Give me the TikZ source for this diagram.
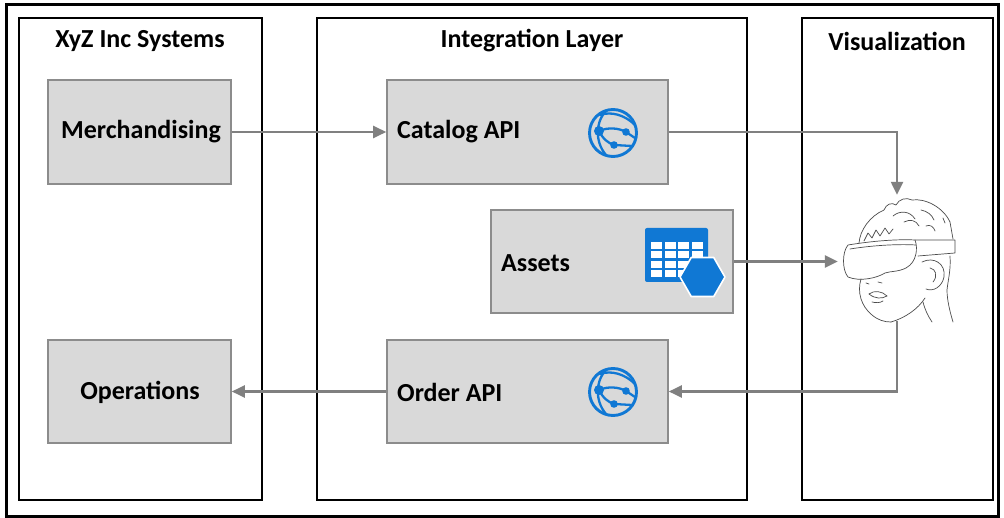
\documentclass[tikz,border=0pt]{standalone}
\usepackage{fontspec}
\setmainfont{Carlito}
\usetikzlibrary{arrows.meta}

\definecolor{boxfill}{RGB}{217,217,217}
\definecolor{boxline}{RGB}{140,140,140}
\definecolor{flow}{RGB}{128,128,128}
\definecolor{azure}{RGB}{16,120,212}

\begin{document}
\begin{tikzpicture}[x=1pt,y=-1pt,
  frame/.style={draw=black,line width=1.6pt,rectangle,inner sep=0pt},
  comp/.style={draw=boxline,fill=boxfill,line width=1.6pt,rectangle,inner sep=0pt},
  heading/.style={font=\fontsize{26}{30}\selectfont\bfseries},
  compname/.style={font=\fontsize{26}{30}\selectfont\bfseries,inner sep=0pt},
  flowline/.style={draw=flow,line width=2.4pt,-{Triangle[length=13pt,width=12pt]}},
  sketch/.style={draw=black!70,line width=0.7pt,line cap=round,line join=round},
  webapp/.pic={
    \draw[azure,line width=2.9pt] (0,0) circle (23.5);
    \begin{scope}[azure,line width=2.3pt,line cap=round]
      % meridian through the main node
      \draw (-6,-23) .. controls (-17,-13) and (-19,8) .. (-7,22);
      % upper latitude
      \draw (-13,-18) .. controls (-2,-22) and (12,-18) .. (22,-8);
      % links between nodes and out to the rim
      \draw (-14,-2) .. controls (-5,-6) and (6,-5) .. (13,-1);
      \draw (13,-1) -- (22,5);
      \draw (-14,-2) .. controls (-10,6) and (-5,10) .. (1,12);
      \draw (1,12) -- (19,13);
    \end{scope}
    \fill[azure] (-14,-2) circle (5) (13,-1) circle (3.8) (1,12) circle (3.8);
  }]

\useasboundingbox (0,0) rectangle (1004,518);
\fill[white] (0,0) rectangle (1004,518);
\draw[line width=3pt] (6,5) rectangle (998,516);

% swim lanes
\node[frame,minimum width=243,minimum height=482] (lane1) at (140.5,259) {};
\node[frame,minimum width=430,minimum height=482] (lane2) at (532,259) {};
\node[frame,minimum width=191,minimum height=482] (lane3) at (897.5,259) {};
\node[heading] (t1) at (140,41) {XyZ Inc Systems};
\node[heading] (t2) at (532,41) {Integration Layer};
\node[heading] (t3) at (897,41) {Visualization};

% components
\node[comp,minimum width=183,minimum height=104] (merch) at (139.5,132) {};
\node[compname] (merchlbl) at (141,132) {Merchandising};
\node[comp,minimum width=183,minimum height=103] (ops) at (139.5,391.5) {};
\node[compname] (opslbl) at (140,392) {Operations};
\node[comp,minimum width=281,minimum height=104] (catalog) at (527.5,132) {};
\node[compname,anchor=west] (cataloglbl) at (397,132) {Catalog API};
\node[comp,minimum width=242,minimum height=103] (assets) at (612,261.5) {};
\node[compname,anchor=west] (assetslbl) at (501,263) {Assets};
\node[comp,minimum width=281,minimum height=103] (order) at (527.5,391.5) {};
\node[compname,anchor=west] (orderlbl) at (397,392) {Order API};

% icons
\pic at (613,133) {webapp};
\pic at (613,392) {webapp};
\begin{scope}
  \fill[azure,rounded corners=2pt] (645,228) rectangle (708,282);
  \foreach \c in {0,1,2,3}{
    \foreach \r in {0,1,2,3}{
      \fill[white] ({651+\c*13.7},{242+\r*9.4}) rectangle ++(11,7);
    }
  }
  \filldraw[azure,draw=white,line width=1.6pt,line join=round]
    (725,277) -- (713.75,257.5) -- (691.25,257.5) -- (680,277)
    -- (691.25,296.5) -- (713.75,296.5) -- cycle;
\end{scope}

% viewer wearing a headset
\node[inner sep=0pt,minimum width=118,minimum height=126] (head) at (897,258) {};
\begin{scope}[sketch]
  % hair
  \draw (859,243) .. controls (860,230) and (870,216) .. (884,210)
        .. controls (886,204) and (892,202) .. (896,205)
        .. controls (899,199) and (906,197) .. (912,200)
        .. controls (925,198) and (943,207) .. (950,222) -- (953,239);
  \draw (893,216) .. controls (900,210) and (910,211) .. (915,219);
  \draw (904,222) .. controls (910,219) and (916,220) .. (919,226);
  \draw (921,210) .. controls (927,211) and (932,215) .. (934,220);
  \draw (926,226) .. controls (930,224) and (934,227) .. (935,231);
  \draw (943,218) -- (945,223);
  % strap teeth under the hair
  \draw (864,241) -- (868,233) -- (872,238) -- (876,230) -- (880,236)
        -- (885,228) -- (889,234) -- (893,229);
  % headset band
  \draw (915,240) -- (955,240) -- (955,253) -- (918,256);
  % visor
  \draw (848,245) .. controls (872,241) and (898,239) .. (915,240)
        .. controls (918,248) and (917,262) .. (906,268)
        .. controls (898,272) and (891,271) .. (885,273)
        .. controls (877,278) and (860,282) .. (848,277)
        .. controls (842,270) and (842,252) .. (848,245);
  \draw (850,249) .. controls (875,245) and (900,244) .. (916,245);
  % face
  \draw (861,279) .. controls (857,292) and (861,306) .. (872,315)
        .. controls (878,320) and (884,322) .. (891,322);
  \draw (891,322) .. controls (905,318) and (918,309) .. (925,298);
  \draw (866,283) -- (869,284);
  \draw (878,282) -- (882,283);
  \draw (869,294) .. controls (874,290) and (882,291) .. (887,296);
  \draw (869,294) .. controls (875,299) and (882,299) .. (887,296);
  \draw (872,302) .. controls (876,303) and (880,303) .. (883,301);
  % ear
  \draw (922,262) .. controls (934,256) and (946,264) .. (944,277)
        .. controls (942,287) and (933,292) .. (926,289);
  \draw (930,268) .. controls (936,269) and (938,276) .. (933,282);
  % neck
  \draw (950,256) .. controls (951,270) and (948,280) .. (947,290)
        .. controls (947,300) and (950,312) .. (953,322);
  \draw (923,302) .. controls (925,310) and (928,316) .. (932,322);
\end{scope}

% data flow
\draw[flowline] (merch.east) -- (catalog.west);
\draw[flowline] (catalog.east) -| (head.north);
\draw[flowline] (assets.east) -- (assets.east -| head.west);
\draw[flowline] (head.south) |- (order.east);
\draw[flowline] (order.west) -- (ops.east);
\end{tikzpicture}
\end{document}
